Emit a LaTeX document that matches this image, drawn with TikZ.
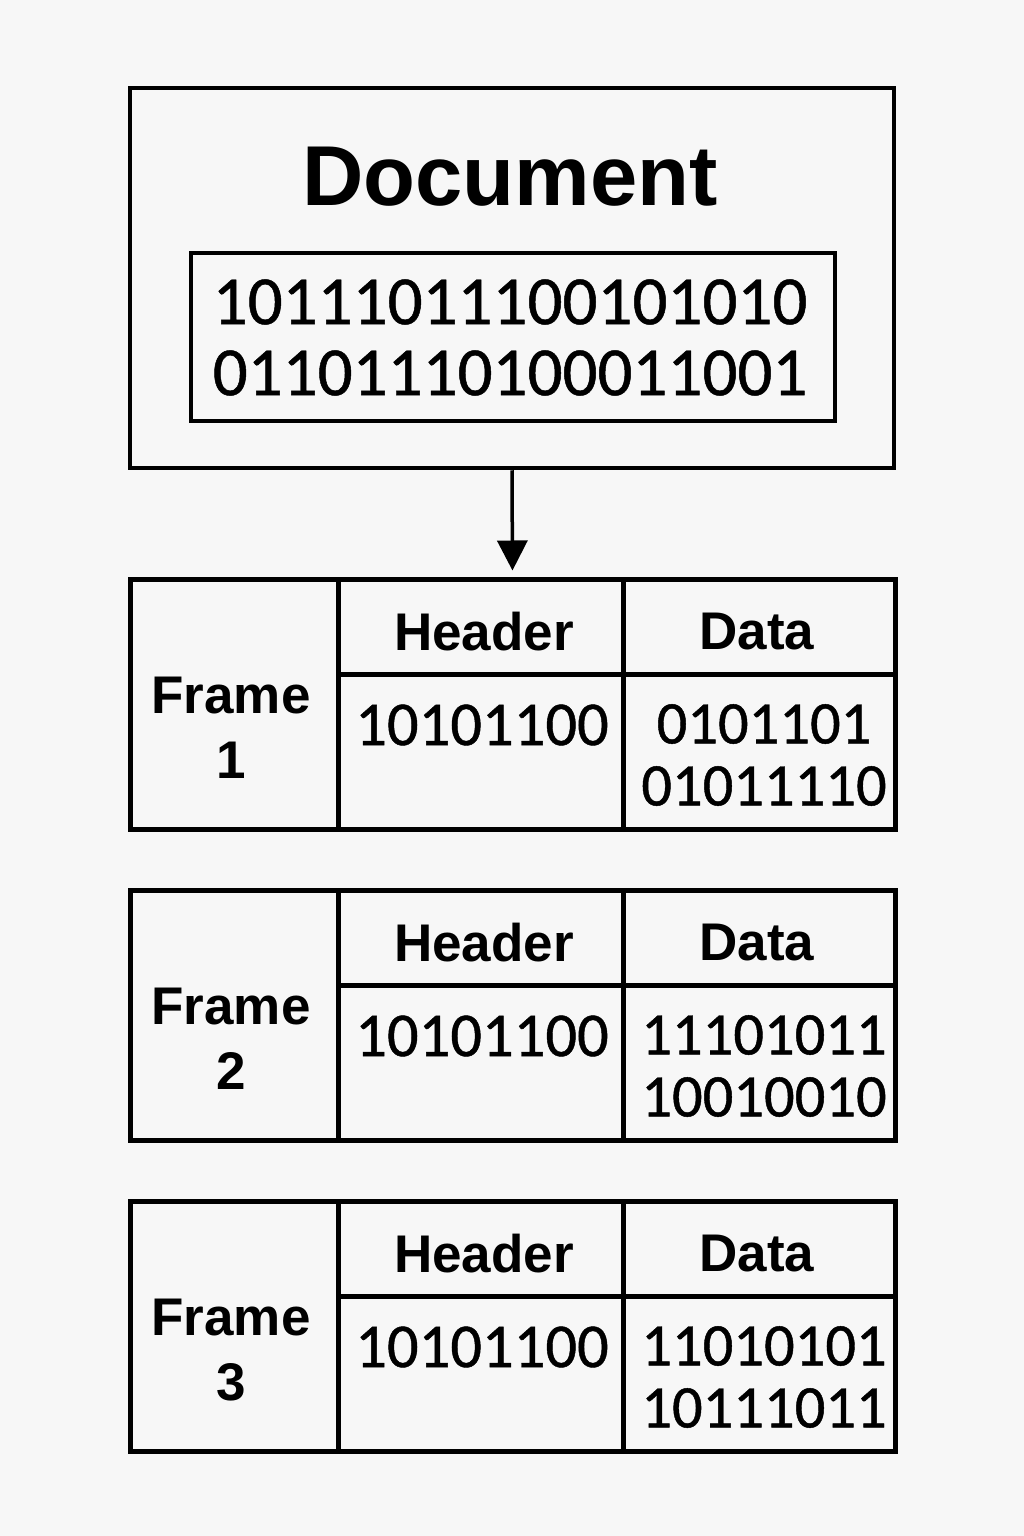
\documentclass[tikz,border=0pt]{standalone}
\usepackage{fontspec}
\setmainfont{Liberation Sans}
\newfontfamily\bitsfont[FakeBold=0.7]{Carlito}
\usetikzlibrary{arrows.meta}
\definecolor{bg}{HTML}{F7F7F7}
\begin{document}
\begin{tikzpicture}[x=1pt,y=-1pt,
  box/.style={draw, line width=5pt, inner sep=0pt},
  rule/.style={line width=5pt},
  lbl/.style={font=\bfseries\fontsize{53}{65}\selectfont, inner sep=0pt},
  bitsA/.style={font=\bitsfont\fontsize{69}{71}\selectfont, align=center, inner sep=0pt},
  bitsB/.style={font=\bitsfont\fontsize{62.5}{62}\selectfont, align=center, inner sep=0pt}]
\fill[bg] (0,0) rectangle (1024,1536);
\useasboundingbox (0,0) rectangle (1024,1536);
% Document block
\node[box, line width=4.5pt, minimum width=764pt, minimum height=380pt] (doc) at (512,278) {};
\node[font=\bfseries\fontsize{85}{90}\selectfont, inner sep=0pt] (doctitle) at (510,177) {Document};
\node[box, line width=4.5pt, minimum width=644pt, minimum height=168pt] (bitbox) at (513,337) {};
\node[bitsA] (docbits) at (510,337.5) {10111011100101010\\01101110100011001};
% Frames
\foreach \k/\T/\da/\db in {1/579/0101101/01011110, 2/890/11101011/10010010, 3/1201/11010101/10111011}{
  \node[box, minimum width=765pt, minimum height=250pt] (f\k) at (512.5,\T+125) {};
  \draw[rule] (338,\T) -- (338,\T+250);
  \draw[rule] (623,\T) -- (623,\T+250);
  \draw[rule] (338,\T+95) -- (895,\T+95);
  \node[lbl, align=center] (fl\k) at (231,\T+149) {Frame\\\k};
  \node[lbl] (fh\k) at (484,\T+53) {Header};
  \node[lbl] (fd\k) at (757,\T+53) {Data};
  \node[bitsB] (fhb\k) at (482,\T+146) {10101100};
  \node[bitsB, font=\bitsfont\fontsize{60.5}{62}\selectfont] (fdb\k) at (764,\T+176) {\da\\\db};
}
\draw[line width=3.5pt, -{Triangle[length=30pt,width=30pt]}, shorten >=6pt] (doc.south) -- (f1.north);
\end{tikzpicture}
\end{document}
